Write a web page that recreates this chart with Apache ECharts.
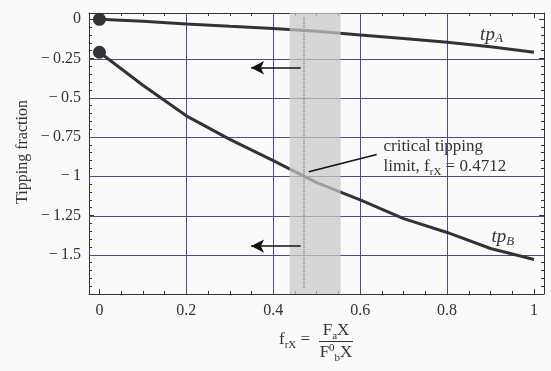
<!DOCTYPE html>
<html>
<head>
<meta charset="utf-8">
<script src="https://cdn.jsdelivr.net/npm/echarts@6/dist/echarts.min.js"></script>
<style>
    html, body { margin: 0; background: #fafafa; }
    #chart { width: 551px; height: 371px; }
</style>
</head>
<body>
<div id="chart"></div>
<script>
// data
const xs  = [0, 0.1, 0.2, 0.3, 0.4, 0.5, 0.6, 0.7, 0.8, 0.9, 1.0]
const tpA = [0, -0.013, -0.03, -0.045, -0.058, -0.077, -0.1, -0.122, -0.146, -0.175, -0.21]
const tpB = [-0.21, -0.42, -0.615, -0.765, -0.9, -1.04, -1.15, -1.27, -1.358, -1.46, -1.53]

const gridX = [0.2, 0.4, 0.6, 0.8]
const gridY = [-0.25, -0.5, -0.75, -1, -1.25, -1.5]
const yLabelMin = -1.5

const bandX = [0.4375, 0.555]
const critical = 0.4712
const critLineY = [0.015, -1.711]
const arrowX = [0.463, 0.349]
const arrowY = [-0.309, -1.445]
const leader = [[0.482, -0.971], [0.638, -0.861]]

const labelA = [0.876, -0.1]
const labelB = [0.902, -1.39]
const annoX = 0.6536
const annoY = [-0.808, -0.939]

const FONT = '"Liberation Serif", "Times New Roman", Times, serif'
const INK = '#333'
const GRIDC = '#5d4485'

const lineA = xs.map((x, i) => [x, tpA[i]])
const lineB = xs.map((x, i) => [x, tpB[i]])

function isStep(v, step) {
    const k = v / step
    return Math.abs(k - Math.round(k)) < 1e-6
}
function fmtX(v) { return isStep(v, 0.2) ? String(+v.toFixed(1)) : '' }
function fmtY(v) {
    if (!isStep(v, 0.25) || v < yLabelMin - 1e-9) return ''
    return String(+v.toFixed(2)).replace('-', '\u2212\u2009')
}

const axisCommon = {
    type: 'value',
    axisLine: { show: true, onZero: false, lineStyle: { color: INK, width: 1 } },
    axisTick: { show: true, inside: true, length: 5, lineStyle: { color: INK } },
    minorTick: { show: true, inside: true, length: 3, lineStyle: { color: INK } },
    splitLine: { show: false }
}

const sym = (v, p) => p.dataIndex === 0 ? 13 : 0

// crisp grid lines, placed through the axis scales
function gridRender(horizontal) {
    return function (params, api) {
        const cs = params.coordSys
        const p = api.coord([api.value(0), api.value(1)])
        if (horizontal) {
            const y = Math.round(p[1]) + 0.5
            return { type: 'line', silent: true, shape: { x1: cs.x, y1: y, x2: cs.x + cs.width, y2: y },
                     style: { stroke: GRIDC, lineWidth: 1 } }
        }
        const x = Math.round(p[0]) + 0.5
        return { type: 'line', silent: true, shape: { x1: x, y1: cs.y, x2: x, y2: cs.y + cs.height },
                 style: { stroke: GRIDC, lineWidth: 1 } }
    }
}

const option = {
    backgroundColor: '#fafafa',
    animation: false,
    grid: { left: 89, right: 7, top: 13, bottom: 77 },
    xAxis: [
        Object.assign({}, axisCommon, {
            min: -0.024, max: 1.023, splitNumber: 5, position: 'bottom',
            minorTick: Object.assign({}, axisCommon.minorTick, { splitNumber: 4 }),
            axisLabel: { formatter: fmtX, fontFamily: FONT, fontSize: 16, color: INK, margin: 9 }
        }),
        Object.assign({}, axisCommon, {
            min: -0.024, max: 1.023, splitNumber: 5, position: 'top',
            minorTick: Object.assign({}, axisCommon.minorTick, { splitNumber: 4 }),
            axisLabel: { show: false }
        })
    ],
    yAxis: [
        Object.assign({}, axisCommon, {
            min: -1.75, max: 0.04, interval: 0.25, position: 'left',
            minorTick: Object.assign({}, axisCommon.minorTick, { splitNumber: 5 }),
            axisLabel: { formatter: fmtY, fontFamily: FONT, fontSize: 16, color: INK, margin: 8 }
        }),
        Object.assign({}, axisCommon, {
            min: -1.75, max: 0.04, interval: 0.25, position: 'right',
            minorTick: Object.assign({}, axisCommon.minorTick, { splitNumber: 5 }),
            axisLabel: { show: false }
        })
    ],
    series: [
        {
            type: 'custom', silent: true, z: 1, clip: false,
            data: gridY.map(v => [0, v]), renderItem: gridRender(true)
        },
        {
            type: 'custom', silent: true, z: 1, clip: false,
            data: gridX.map(v => [v, 0]), renderItem: gridRender(false)
        },
        {
            name: 'tpA', type: 'line', data: lineA, z: 2,
            symbol: 'circle', symbolSize: sym, showAllSymbol: true,
            itemStyle: { color: INK }, lineStyle: { color: INK, width: 3 }
        },
        {
            name: 'tpB', type: 'line', data: lineB, z: 2,
            symbol: 'circle', symbolSize: sym, showAllSymbol: true,
            itemStyle: { color: INK }, lineStyle: { color: INK, width: 3 }
        },
        // shaded band over the curves
        {
            type: 'line', data: [], silent: true, z: 3,
            markArea: {
                z: 3, silent: true,
                itemStyle: { color: 'rgba(200,200,200,0.72)' },
                data: [[{ xAxis: bandX[0] }, { xAxis: bandX[1] }]]
            }
        },
        // critical limit line + leader
        {
            type: 'line', data: [], silent: true, z: 6,
            markLine: {
                z: 6, silent: true, symbol: ['none', 'none'], label: { show: false },
                emphasis: { disabled: true },
                data: [
                    [{ coord: [critical, critLineY[0]], lineStyle: { color: '#979797', width: 2, type: [1, 1] } },
                     { coord: [critical, critLineY[1]] }],
                    [{ coord: leader[0], lineStyle: { color: '#111', width: 1.5, type: 'solid' } },
                     { coord: leader[1] }]
                ]
            }
        },
        // arrows
        {
            type: 'line', data: [], silent: true, z: 6,
            markLine: {
                z: 6, silent: true, symbol: ['none', 'arrow'], symbolSize: [10, 13],
                label: { show: false }, emphasis: { disabled: true },
                lineStyle: { color: '#111', width: 1.5, type: 'solid' },
                data: arrowY.map(y => [{ coord: [arrowX[0], y] }, { coord: [arrowX[1], y] }])
            }
        }
    ]
}

const chart = echarts.init(document.getElementById('chart'), null, { renderer: 'canvas' })
chart.setOption(option)

const px = xy => chart.convertToPixel({ gridIndex: 0 }, xy)
const pA = px(labelA), pB = px(labelB)
const pN1 = px([annoX, annoY[0]]), pN2 = px([annoX, annoY[1]])

const subRich = {
    s: { fontFamily: FONT, fontSize: 11, lineHeight: 13, verticalAlign: 'bottom', fill: INK },
    si: { fontFamily: FONT, fontSize: 13, fontStyle: 'italic', lineHeight: 13, verticalAlign: 'bottom', fill: INK },
    sup: { fontFamily: FONT, fontSize: 11, lineHeight: 12, verticalAlign: 'top', fill: INK }
}
function txt(x, y, text, font, align, extra) {
    return Object.assign({
        type: 'text', x: x, y: y, silent: true,
        style: {
            text: text, font: font, fill: INK, lineHeight: 21,
            align: align || 'left', verticalAlign: 'middle', rich: subRich
        }
    }, extra || {})
}

chart.setOption({
    graphic: [
        txt(22.7, 152, 'Tipping fraction', '16px ' + FONT, 'center', { rotation: Math.PI / 2 }),
        txt(pA[0], pA[1], 'tp{si|A}', 'italic 19px ' + FONT),
        txt(pB[0], pB[1], 'tp{si|B}', 'italic 19px ' + FONT),
        txt(pN1[0], pN1[1], 'critical tipping', '17px ' + FONT),
        txt(pN2[0], pN2[1], 'limit, f{s|rX} = 0.4712', '17px ' + FONT),
        // x axis title: f_rX = F_aX / F0_bX
        txt(279, 340, 'f{s|rX} =', '17px ' + FONT),
        txt(336, 331, 'F{s|a}X', '17px ' + FONT, 'center'),
        { type: 'line', silent: true, shape: { x1: 319, y1: 341.5, x2: 353, y2: 341.5 }, style: { stroke: INK, lineWidth: 1 } },
        txt(336, 353, 'F{sup|0}{s|b}X', '17px ' + FONT, 'center')
    ]
})
</script>
</body>
</html>
